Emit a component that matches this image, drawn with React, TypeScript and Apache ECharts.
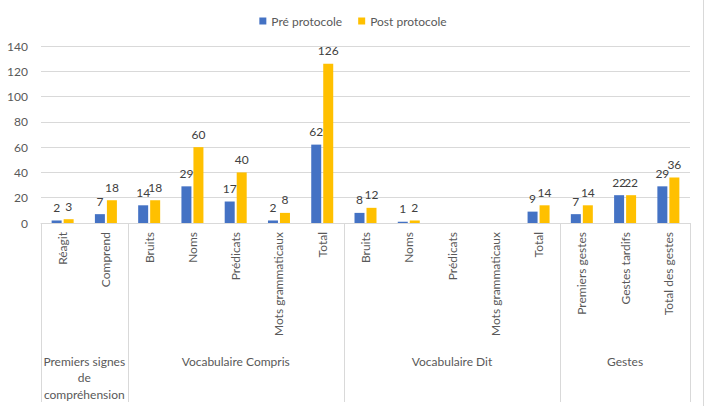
import React, { useEffect, useRef } from "react";
import * as echarts from "echarts";

// Sub-categories along the x axis (left to right)
const categories = [
  "Réagit",
  "Comprend",
  "Bruits",
  "Noms",
  "Prédicats",
  "Mots grammaticaux",
  "Total",
  "Bruits",
  "Noms",
  "Prédicats",
  "Mots grammaticaux",
  "Total",
  "Premiers gestes",
  "Gestes tardifs",
  "Total des gestes",
];

// Outer grouping of the sub-categories
const groupNames = [
  "Premiers signes\nde\ncompréhension",
  "Vocabulaire Compris",
  "Vocabulaire Dit",
  "Gestes",
];
const groupSizes = [2, 5, 5, 3];

const seriesNames = ["Pré protocole", "Post protocole"];
const preValues: (number | null)[] = [2, 7, 14, 29, 17, 2, 62, 8, 1, null, null, 9, 7, 22, 29];
const postValues: (number | null)[] = [3, 18, 18, 60, 40, 8, 126, 12, 2, null, null, 14, 14, 22, 36];

const yTicks = { min: 0, max: 140, interval: 20 };

const FONT = "Lato";
const GRID_COLOR = "#d9d9d9";
const TEXT_COLOR = "#595959";

export default function App() {
  const ref = useRef<HTMLDivElement>(null);

  useEffect(() => {
    if (!ref.current) return;
    const chart = echarts.init(ref.current, undefined, { renderer: "svg" });

    const labelStyle = {
      show: true,
      position: "top" as const,
      distance: 7,
      color: "#404040",
      fontSize: 12,
      fontFamily: FONT,
    };

    chart.setOption({
      animation: false,
      textStyle: { fontFamily: FONT },
      legend: {
        top: 10,
        left: "center",
        icon: "rect",
        itemWidth: 7,
        itemHeight: 7,
        itemGap: 16,
        textStyle: { color: TEXT_COLOR, fontSize: 12, fontFamily: FONT },
        data: seriesNames,
      },
      grid: { left: 41, right: 16, top: 46, bottom: 183, containLabel: false },
      xAxis: {
        type: "category",
        data: categories.map((_, i) => String(i)),
        axisLine: { show: true, lineStyle: { color: GRID_COLOR } },
        axisTick: { show: false },
        axisLabel: {
          rotate: 90,
          interval: 0,
          margin: 9,
          color: TEXT_COLOR,
          fontSize: 12,
          fontFamily: FONT,
          formatter: (_v: string, i: number) => categories[i],
        },
      },
      yAxis: {
        type: "value",
        min: yTicks.min,
        max: yTicks.max,
        interval: yTicks.interval,
        axisLine: { show: false },
        axisTick: { show: false },
        axisLabel: { color: TEXT_COLOR, fontSize: 12, fontFamily: FONT, margin: 13 },
        splitLine: { lineStyle: { color: GRID_COLOR } },
      },
      series: [
        {
          name: seriesNames[0],
          type: "bar",
          data: preValues,
          barWidth: 10,
          barGap: "20%",
          itemStyle: { color: "#4472C4" },
          label: labelStyle,
        },
        {
          name: seriesNames[1],
          type: "bar",
          data: postValues,
          barWidth: 10,
          barGap: "20%",
          itemStyle: { color: "#FFC000" },
          label: labelStyle,
        },
      ],
    });

    // Group separators and outer labels, placed from the axis scale
    const c0 = chart.convertToPixel({ xAxisIndex: 0 }, 0) as number;
    const c1 = chart.convertToPixel({ xAxisIndex: 0 }, 1) as number;
    const step = c1 - c0;
    const edge = (i: number) => c0 - step / 2 + i * step;
    const axisY = chart.convertToPixel({ yAxisIndex: 0 }, 0) as number;
    const bottomY = 402;

    const graphics: any[] = [];
    let start = 0;
    const bounds = [0];
    groupSizes.forEach((n) => {
      start += n;
      bounds.push(start);
    });
    bounds.forEach((b) => {
      const x = Math.round(edge(b)) + 0.5;
      graphics.push({
        type: "line",
        shape: { x1: x, y1: axisY, x2: x, y2: bottomY },
        style: { stroke: GRID_COLOR, lineWidth: 1 },
        silent: true,
      });
    });
    groupNames.forEach((name, g) => {
      const cx = (edge(bounds[g]) + edge(bounds[g + 1])) / 2;
      graphics.push({
        type: "text",
        x: cx,
        y: 353,
        style: {
          text: name,
          fill: TEXT_COLOR,
          fontSize: 12,
          fontFamily: FONT,
          align: "center",
          verticalAlign: "top",
          lineHeight: 16.5,
        },
        silent: true,
      });
    });
    // chart area frame edge on the right
    graphics.push({
      type: "line",
      shape: { x1: 703.5, y1: 0, x2: 703.5, y2: 406 },
      style: { stroke: GRID_COLOR, lineWidth: 1 },
      silent: true,
    });

    chart.setOption({ graphic: graphics });

    return () => chart.dispose();
  }, []);

  return (
    <div
      ref={ref}
      style={{ position: "absolute", left: 0, top: 0, width: 706, height: 406, background: "#fff" }}
    />
  );
}
